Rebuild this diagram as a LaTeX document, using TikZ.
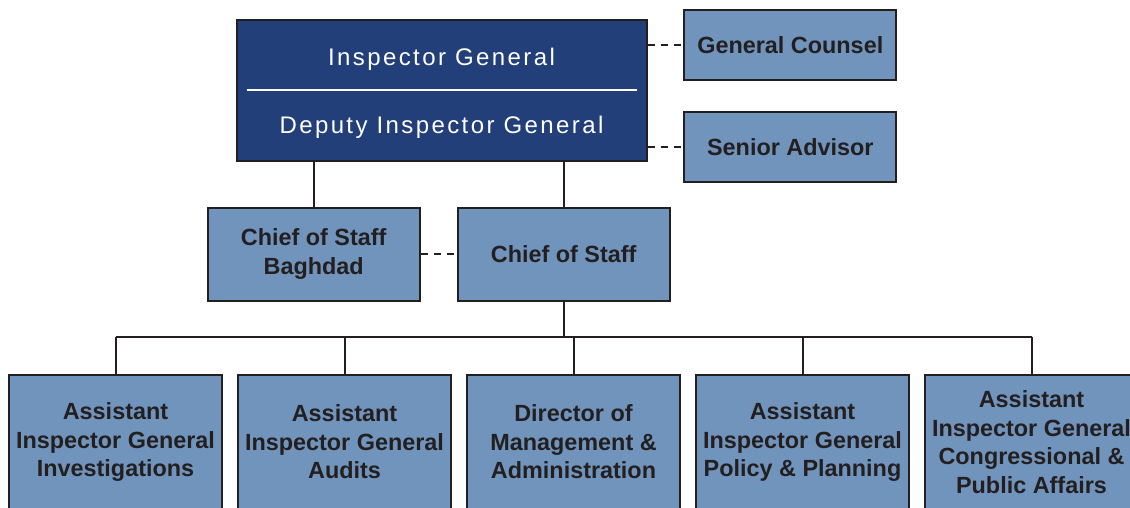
\documentclass[tikz,border=0pt]{standalone}
\usepackage{fontspec}
\setmainfont{Liberation Sans}
\newfontfamily\headfont[LetterSpace=10]{Liberation Sans}
\usetikzlibrary{calc}

\definecolor{navy}{RGB}{35,63,122}
\definecolor{steel}{RGB}{112,148,187}
\definecolor{ink}{RGB}{35,31,32}

\tikzset{
	office/.style={draw=ink, line width=2pt, fill=steel, text=ink, align=center, inner sep=0pt,
		font=\fontsize{23.4}{28.5}\selectfont\bfseries},
	link/.style={draw=ink, line width=2pt},
	advice/.style={draw=ink, line width=2pt, dash pattern=on 7pt off 6pt},
	headtext/.style={text=white, anchor=base, inner sep=0pt, font=\fontsize{24}{28}\headfont},
}

\begin{document}
\begin{tikzpicture}[x=1pt,y=-1pt]
	\useasboundingbox (0,0) rectangle (1130,508);
	\clip (0,0) rectangle (1130,508);
	
	% top office
	\node[draw=ink, line width=2pt, fill=navy, minimum width=410pt, minimum height=141pt, inner sep=0pt] (ig) at (441.5,90.5) {};
	\node[headtext] (igname) at (441.5,66) {Inspector General};
	\node[headtext] (digname) at (441.5,134) {Deputy Inspector General};
	\draw[white, line width=2pt] ($(ig.west)+(11,0)$) -- ($(ig.east)+(-11,0)$);
	
	% advisers
	\node[office, minimum width=212pt, minimum height=70pt] (gc) at (790.3,45.2) {General Counsel};
	\node[office, minimum width=212pt, minimum height=70pt] (sa) at (790.3,146.9) {Senior Advisor};
	
	\draw[advice] (gc.west -| ig.east) -- (gc.west);
	\draw[advice] (sa.west -| ig.east) -- (sa.west);
	
	% chiefs of staff
	\node[office, minimum width=212pt, minimum height=93pt] (cosb) at (313.7,254.2) {Chief of Staff\\Baghdad};
	\node[office, minimum width=212pt, minimum height=93pt] (cos) at (563.7,254.2) {Chief of Staff};
	
	\draw[link] (ig.south -| cosb.north) -- (cosb.north);
	\draw[link] (ig.south -| cos.north) -- (cos.north);
	\draw[advice] (cosb.east) -- (cos.west);
	
	% assistant offices
	\node[office, minimum width=213pt, minimum height=134pt] (aigi) at (115.5,442) {Assistant\\Inspector General\\Investigations};
	\node[office, minimum width=213pt, minimum height=134pt] (aiga) at (344.5,442) {Assistant\\Inspector General\\Audits};
	\node[office, minimum width=213pt, minimum height=134pt] (dma) at (573.5,442) {Director of\\Management \&\\Administration};
	\node[office, minimum width=213pt, minimum height=134pt] (aigp) at (802.5,442) {Assistant\\Inspector General\\Policy \& Planning};
	\node[office, minimum width=213pt, minimum height=134pt] (aigc) at (1031.5,442) {Assistant\\Inspector General\\Congressional \&\\Public Affairs};
	
	\coordinate (bus) at (563.7,336.7);
	\draw[link] (cos.south) -- (bus);
	\draw[link] (bus -| aigi.north) -- (bus -| aigc.north);
	\draw[link] (bus -| aigi.north) -- (aigi.north);
	\draw[link] (bus -| aiga.north) -- (aiga.north);
	\draw[link] (bus -| dma.north) -- (dma.north);
	\draw[link] (bus -| aigp.north) -- (aigp.north);
	\draw[link] (bus -| aigc.north) -- (aigc.north);
	
\end{tikzpicture}
\end{document}
